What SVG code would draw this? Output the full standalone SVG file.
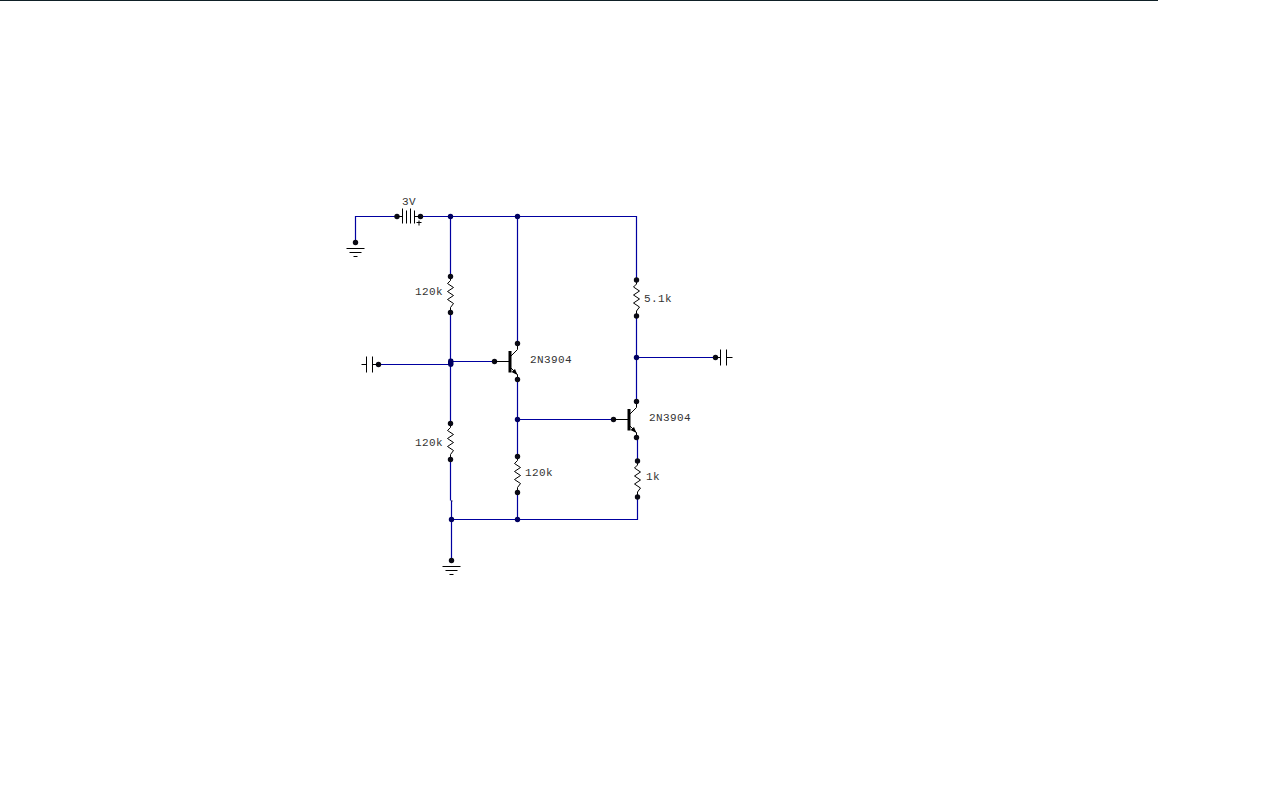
<svg xmlns="http://www.w3.org/2000/svg" width="1280" height="800" viewBox="0 0 1280 800">
<style>
.w{fill:none;stroke:#0000a0;stroke-width:1.200}
.k{fill:none;stroke:#000;stroke-width:1}
.b{fill:none;stroke:#000;stroke-width:3}
.d{fill:#0a0a14}
.n{fill:#000060}
text{font-family:"Liberation Mono",monospace;font-size:11px;letter-spacing:.4px;fill:#333}
</style>
<defs>
<circle id="dot" r="2.700" class="d"/>
<circle id="jn" r="2.700" class="n"/>
<g id="res"><path class="k" d="M0 0V4L-3 7L3 11L-3 15L3 19L-3 23L3 27L0 31V36"/><use href="#dot"/><use href="#dot" y="36"/></g>
<g id="gnd"><use href="#dot"/><path class="k" d="M-9 6H9M-6 10H6M-2 14H2"/></g>
<g id="npn"><use href="#dot"/><path class="k" d="M0 0H15M16 -5L23 -12V-18M16 6L23 13V18"/><path class="b" d="M15.500 -10.500V11"/><path d="M23 13.500L17 10.500L20.500 7.500Z" fill="#000"/><use href="#dot" x="23" y="-18"/><use href="#dot" x="23" y="18"/></g>
</defs>
<rect id="top-bar" x="0" y="0" width="1158" height="1" fill="#0f2027"/>
<g transform="translate(.5 .5)">
<g id="connectors">
<path class="w" d="M355 243V216H397M421 216H636V280M450 216V276M450 312V423M450 459V500M451 500V560M378 364H450M450 361H494M517 216V343M517 379V456M517 419H613M517 492V519M451 519H637V496M636 315V401M637 437V461M636 357H715"/>
<rect x="451" y="500" width="1" height="1" fill="#222"/>
</g>
<g id="gnd1"><use href="#gnd" x="355" y="242"/></g>
<g id="battery"><use href="#dot" x="396.500" y="216"/><use href="#dot" x="420" y="216"/><path class="k" d="M397 216H402M402 208V223M406 210V223M410 208V223M414 210V223M414 216H420"/><path class="k" d="M416 222H421M418.500 220V225"/><text x="401.500" y="204.500">3V</text></g>
<g id="j1"><use href="#jn" x="450" y="216"/></g>
<g id="j2"><use href="#jn" x="517" y="216"/></g>
<g id="r1"><use href="#res" x="450" y="276"/><text x="414.500" y="294.500">120k</text></g>
<g id="r2"><use href="#res" x="450" y="423"/><text x="414.500" y="445.500">120k</text></g>
<g id="r3"><use href="#res" x="517" y="456"/><text x="524.500" y="475.500">120k</text></g>
<g id="r4"><use href="#res" x="636" y="279.500"/><text x="643.500" y="301.500">5.1k</text></g>
<g id="r5"><use href="#res" x="637" y="460.500"/><text x="645.500" y="479.500">1k</text></g>
<g id="c-in"><use href="#dot" x="378" y="364"/><path class="k" d="M361 364H366M366 356V372M372 356V372M372 364H378"/></g>
<g id="c-out"><use href="#dot" x="715" y="357"/><path class="k" d="M715 357H720M720 349V365M726 349V365M726 357H732"/></g>
<g id="j3"><rect x="447.500" y="358" width="5.500" height="8.500" rx="2.400" class="n"/></g>
<g id="q1"><use href="#npn" x="494" y="361"/><text x="529.500" y="362.500">2N3904</text></g>
<g id="q2"><use href="#npn" x="613" y="419"/><text x="648.500" y="420.500">2N3904</text></g>
<g id="j4"><use href="#jn" x="517" y="419"/></g>
<g id="j5"><use href="#jn" x="636" y="357"/></g>
<g id="j6"><use href="#jn" x="451" y="519"/></g>
<g id="j7"><use href="#jn" x="517" y="519"/></g>
<g id="gnd2"><use href="#gnd" x="451" y="560"/></g>
</g>
</svg>
